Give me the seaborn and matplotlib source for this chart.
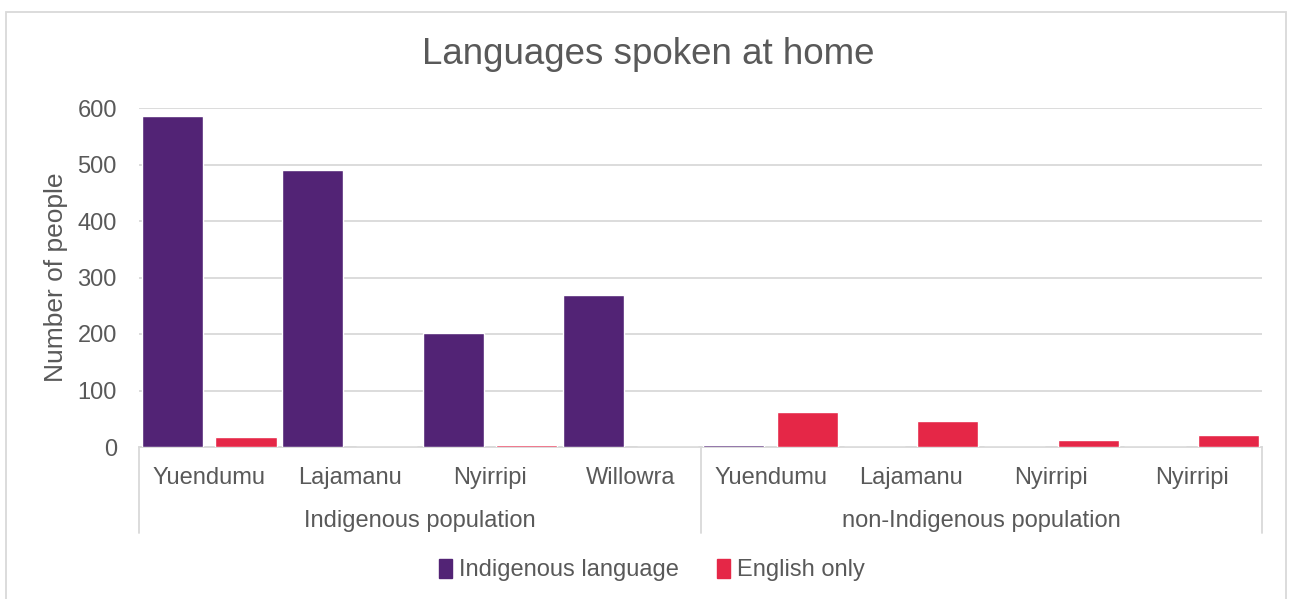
import matplotlib
matplotlib.use("Agg")
import matplotlib.pyplot as plt
import matplotlib.transforms as mtransforms
from matplotlib.patches import Rectangle, Patch
import seaborn as sns
import pandas as pd

# ---- data ----
groups = ["Indigenous population", "non-Indigenous population"]
communities = ["Yuendumu", "Lajamanu", "Nyirripi", "Willowra",
               "Yuendumu", "Lajamanu", "Nyirripi", "Nyirripi"]
group_of = [0, 0, 0, 0, 1, 1, 1, 1]
indigenous_language = [586, 490, 202, 269, 3, 0, 0, 0]
english_only = [18, 0, 3, 0, 62, 46, 12, 21]
series = ["Indigenous language", "English only"]
colors = ["#522375", "#E52747"]
yticks = [0, 100, 200, 300, 400, 500, 600]

keys = [f"{g}|{c}|{i}" for i, (g, c) in enumerate(zip(group_of, communities))]
df = pd.DataFrame({
    "key": keys * 2,
    "value": indigenous_language + english_only,
    "series": [series[0]] * len(keys) + [series[1]] * len(keys),
})

sns.set_theme(style="white")
plt.rcParams["font.family"] = ["Liberation Sans", "DejaVu Sans"]
txt = "#595959"
grid = "#d9d9d9"

W, H = 1292, 599
fig = plt.figure(figsize=(W / 100, H / 100), dpi=100)
ax_l, ax_r, ax_t, ax_b = 139, 1262, 108, 447
ax = fig.add_axes([ax_l / W, 1 - ax_b / H, (ax_r - ax_l) / W, (ax_b - ax_t) / H])

sns.barplot(data=df, x="key", y="value", hue="series", order=keys,
            hue_order=series, palette=colors, width=1.05, gap=0.17,
            saturation=1, ax=ax, legend=True, zorder=3)

ax.set_xlim(-0.5, len(keys) - 0.5)
ax.set_ylim(0, 600)
ax.set_yticks(yticks)
ax.set_yticklabels([str(v) for v in yticks], fontsize=17, color=txt)
ax.tick_params(axis="y", length=0, pad=16)
ax.set_xticks([])
ax.set_xlabel("")
ax.set_ylabel("Number of people", fontsize=19, color=txt, labelpad=6.5)
ax.yaxis.grid(True, color=grid, linewidth=1.3, zorder=0)
ax.set_axisbelow(True)
for s in ["top", "right", "left"]:
    ax.spines[s].set_visible(False)
ax.spines["bottom"].set_color(grid)
ax.spines["bottom"].set_linewidth(1.3)

ph = ax_b - ax_t
trans = mtransforms.blended_transform_factory(ax.transData, ax.transAxes)
for i, c in enumerate(communities):
    ax.text(i, -(478 - ax_b) / ph, c, ha="center", va="center",
            fontsize=17, color=txt, transform=trans)
for gi, g in enumerate(groups):
    idx = [i for i, gg in enumerate(group_of) if gg == gi]
    cx = (idx[0] + idx[-1]) / 2
    ax.text(cx, -(521 - ax_b) / ph, g, ha="center", va="center",
            fontsize=17, color=txt, transform=trans)
for xb in [-0.5, 3.5, len(keys) - 0.5]:
    ax.plot([xb, xb], [0, -(533 - ax_b) / ph], color=grid, linewidth=1.3,
            transform=trans, clip_on=False)

ax.get_legend().remove()
fig.legend([Patch(color=c) for c in colors], series, loc="center",
           bbox_to_anchor=(652 / W, 1 - 570 / H), ncol=2, frameon=False,
           fontsize=17, handlelength=0.55, handleheight=0.9,
           handletextpad=0.3, columnspacing=1.6, labelcolor=txt)

fig.text(648 / W, 1 - 54 / H, "Languages spoken at home", ha="center",
         va="center", fontsize=26.5, color=txt)

fig.patches.append(Rectangle((6 / W, -0.02), 1280 / W, 1 - 12 / H + 0.02,
                             transform=fig.transFigure, fill=False,
                             edgecolor=grid, linewidth=1.3))

fig.savefig("out.png", dpi=100, facecolor="white")
